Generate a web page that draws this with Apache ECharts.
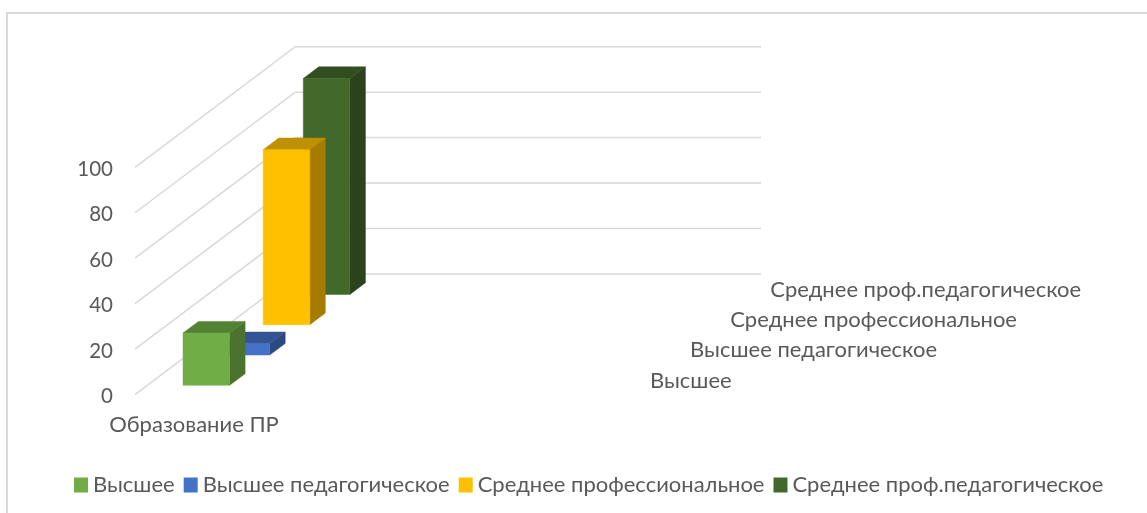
<!DOCTYPE html>
<html>
<head>
<meta charset="utf-8">
<style>
  html, body { margin: 0; padding: 0; background: #fff; }
  #chart { width: 1147px; height: 513px; }
</style>
<script src="https://cdn.jsdelivr.net/npm/echarts@6/dist/echarts.min.js"></script>
</head>
<body>
<div id="chart"></div>
<script>
const categories = ["Образование ПР"];
const yTicks = [0, 20, 40, 60, 80, 100];
const seriesNames = ["Высшее", "Высшее педагогическое", "Среднее профессиональное", "Среднее проф.педагогическое"];
const vyssheeValues = [23];
const vyssheePedValues = [5];
const sredneeProfValues = [77];
const sredneeProfPedValues = [95];

const allValues = [vyssheeValues, vyssheePedValues, sredneeProfValues, sredneeProfPedValues];
const faceColors = ["#70AD47", "#4472C4", "#FFC000", "#43682B"];
const topColors = ["#548235", "#335593", "#BF9000", "#324E20"];
const sideColors = ["#4B732F", "#2A4A80", "#A67C00", "#2B431C"];

const FONT = 'Lato, "Noto Sans", sans-serif';
const FONT_SIZE = 22;
const TEXT = "#595959";
const LINE = "#D9D9D9";

// fake perspective, all in px
const WALL_DX = 160.3;
const WALL_DY = 120.6;
const WALL_RIGHT = 761;
const ROW_DX = 40.1;
const ROW_DY = 30.3;
const BAR_W = 46.6;
const BAR_DX = 15.5;
const BAR_DY = 11.6;

const poly = (points, fill) => ({
  type: "polygon",
  shape: { points },
  style: { fill, stroke: fill, lineWidth: 0.5 }
});

const renderWall = (params, api) => {
  const p = api.coord([0, api.value(1)]);
  const left = p[0] - params.coordSys.width / 2;
  return {
    type: "polyline",
    shape: {
      points: [
        [left, p[1]],
        [left + WALL_DX, p[1] - WALL_DY],
        [WALL_RIGHT, p[1] - WALL_DY]
      ]
    },
    style: { stroke: LINE, lineWidth: 1.5, fill: null }
  };
};

const renderBar = (row) => (params, api) => {
  const base = api.coord([0, 0]);
  const top = api.coord([0, api.value(1)]);
  const x0 = base[0] - 11 + row * ROW_DX;
  const x1 = x0 + BAR_W;
  const y0 = base[1] - 9.3 - row * ROW_DY;
  const y1 = y0 - (base[1] - top[1]);
  return {
    type: "group",
    children: [
      poly([[x1, y0], [x1 + BAR_DX, y0 - BAR_DY], [x1 + BAR_DX, y1 - BAR_DY], [x1, y1]], sideColors[row]),
      poly([[x0, y1], [x1, y1], [x1 + BAR_DX, y1 - BAR_DY], [x0 + BAR_DX, y1 - BAR_DY]], topColors[row]),
      poly([[x0, y0], [x1, y0], [x1, y1], [x0, y1]], faceColors[row]),
      {
        type: "text",
        x: base[0] + 456 + row * ROW_DX,
        y: base[1] - 14 - row * ROW_DY,
        style: {
          text: seriesNames[row],
          font: FONT_SIZE + "px " + FONT,
          fill: TEXT,
          textAlign: "left",
          textVerticalAlign: "middle"
        }
      }
    ]
  };
};

const chart = echarts.init(document.getElementById("chart"));
chart.setOption({
  backgroundColor: "#fff",
  animation: false,
  textStyle: { fontFamily: FONT },
  graphic: [
    {
      type: "polyline",
      silent: true,
      shape: { points: [[7, 513], [7, 13], [1147, 13]] },
      style: { stroke: LINE, lineWidth: 2, fill: null }
    }
  ],
  grid: { left: 135, width: 118, top: 167.3, bottom: 118.4, containLabel: false },
  legend: {
    data: seriesNames,
    left: 74,
    top: 474,
    padding: 0,
    icon: "rect",
    itemWidth: 14,
    itemHeight: 15,
    itemGap: 9,
    textStyle: { color: TEXT, fontSize: FONT_SIZE, fontFamily: FONT }
  },
  xAxis: {
    type: "category",
    data: categories,
    axisLine: { show: false },
    axisTick: { show: false },
    axisLabel: { color: TEXT, fontSize: FONT_SIZE, fontFamily: FONT, margin: 19 }
  },
  yAxis: {
    type: "value",
    min: yTicks[0],
    max: yTicks[yTicks.length - 1],
    interval: 20,
    splitLine: { show: false },
    axisLine: { show: false },
    axisTick: { show: false },
    axisLabel: {
      color: TEXT,
      fontSize: 20.5,
      fontFamily: FONT,
      margin: 22,
      verticalAlign: "top",
      lineHeight: 4
    }
  },
  series: [
    {
      type: "custom",
      name: "walls",
      z: 1,
      silent: true,
      renderItem: renderWall,
      encode: { x: 0, y: 1 },
      data: yTicks.map((t) => [0, t])
    },
    ...seriesNames.map((name, row) => ({
      type: "custom",
      name,
      z: 10 - row,
      silent: true,
      itemStyle: { color: faceColors[row] },
      renderItem: renderBar(row),
      encode: { x: 0, y: 1 },
      data: allValues[row].map((v, i) => [i, v])
    }))
  ]
});
</script>
</body>
</html>
